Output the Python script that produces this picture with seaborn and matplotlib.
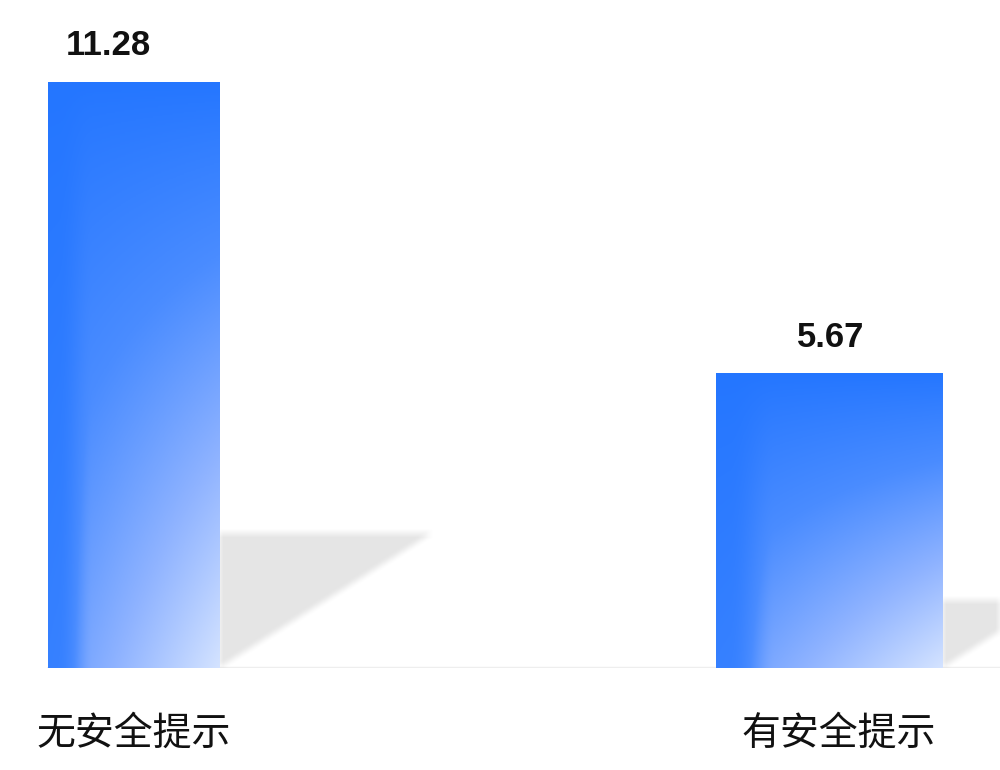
import numpy as np
import pandas as pd
import seaborn as sns
import matplotlib
matplotlib.use("Agg")
import matplotlib.pyplot as plt
from matplotlib.colors import LinearSegmentedColormap

# data
categories = ["无安全提示", "有安全提示"]
values = [11.28, 5.67]

sns.set_theme(style="white")
plt.rcParams['font.family'] = ['Noto Sans CJK SC', 'DejaVu Sans']

df = pd.DataFrame({"cat": categories, "val": values})

fig = plt.figure(figsize=(10, 7.7), dpi=100)
ax = fig.add_axes([0, 0.1325, 1, 0.8675])

sns.barplot(data=df, x="cat", y="val", ax=ax, color="#2476ff", width=0.3)

ax.set_xlim(-0.192, 1.245)
ax.set_ylim(0, 12.85)

bar_widths = [0.246, 0.326]
label_dx = [-18, 1]

grad_cm = LinearSegmentedColormap.from_list(
    "bluegrad", ["#2476ff", "#4a8cff", "#8fb3ff", "#d4e3ff"])


def blur(a, n):
    k = np.ones(n) / n
    a = np.apply_along_axis(lambda r: np.convolve(r, k, mode="same"), 1, a)
    a = np.apply_along_axis(lambda c: np.convolve(c, k, mode="same"), 0, a)
    return a


# soft shadows cast to the right of each bar
xl, yl = ax.get_xlim(), ax.get_ylim()
nx, ny = 1000, 668
gx = np.linspace(xl[0], xl[1], nx)
gy = np.linspace(yl[1], yl[0], ny)
X, Y = np.meshgrid(gx, gy)
mask = np.zeros_like(X)
px_per_x = 1000 / (xl[1] - xl[0])
px_per_y = 668 / (yl[1] - yl[0])
for patch, w in zip(ax.patches, bar_widths):
    cx = patch.get_x() + patch.get_width() / 2
    h_bar = patch.get_height()
    xr = cx + w / 2
    sh = 0.23 * h_bar
    sw = 1.58 * sh * px_per_y / px_per_x
    inside = (X >= xr) & (Y >= 0) & (Y <= sh) & ((X - xr) / sw <= Y / sh)
    mask[inside] = 1.0
mask = blur(mask, 9)
shadow = np.zeros((ny, nx, 4))
shadow[..., 3] = mask * 0.105
ax.imshow(shadow, extent=(xl[0], xl[1], yl[0], yl[1]), aspect="auto",
          zorder=1, interpolation="bilinear")

# gradient fill for the bars
for i, (patch, w) in enumerate(zip(ax.patches, bar_widths)):
    cx = patch.get_x() + patch.get_width() / 2
    patch.set_x(cx - w / 2)
    patch.set_width(w)
    h_bar = patch.get_height()
    xf = np.linspace(0, 1, 200)[None, :]
    yf = np.linspace(0, 1, 400)[:, None]
    left = np.clip((xf - 0.06) / 0.2, 0, 1)
    left = 0.35 + 0.65 * left * left * (3 - 2 * left)
    t = yf ** 0.9 * (0.45 + 0.55 * xf) * left
    t = np.clip(t, 0, 1)
    im = ax.imshow(t, cmap=grad_cm, vmin=0, vmax=1, aspect="auto",
                   extent=(cx - w / 2, cx + w / 2, 0, h_bar),
                   origin="upper", zorder=2, interpolation="bilinear")
    im.set_clip_path(patch)
    patch.set_facecolor("none")
    patch.set_edgecolor("none")
    patch.set_zorder(3)
    ax.annotate(f"{values[i]:.2f}", (cx, h_bar), xytext=(label_dx[i], 19),
                textcoords="offset points", ha="center", va="baseline",
                fontsize=25, fontweight="bold", family="Liberation Sans",
                color="#111111")

ax.axhline(0, xmin=0.048, xmax=1, color="#eeeeee", lw=2.5, zorder=0)

sns.despine(ax=ax, left=True, bottom=True, top=True, right=True)
ax.set_yticks([])
ax.set_xlabel("")
ax.set_ylabel("")
ax.tick_params(axis="x", length=0, pad=33, labelsize=28, labelcolor="#111111")
for lab, dx in zip(ax.get_xticklabels(), [0, 9]):
    lab.set_x(lab.get_position()[0])
    lab.set_transform(lab.get_transform() + matplotlib.transforms.ScaledTranslation(dx / 100, 0, fig.dpi_scale_trans))

fig.savefig("out.png", dpi=100)
